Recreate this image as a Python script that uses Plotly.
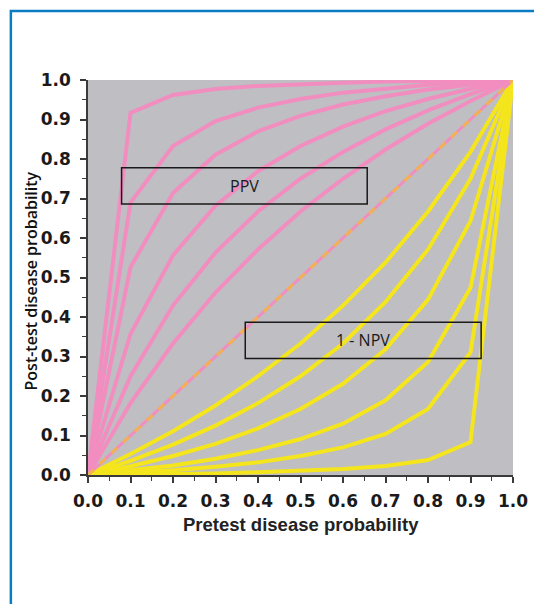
import plotly.graph_objects as go

# ---- data ----
pretest = [0.0, 0.1, 0.2, 0.3, 0.4, 0.5, 0.6, 0.7, 0.8, 0.9, 1.0]

# PPV curves (pink), from steepest to flattest
ppv_lr100 = [0.0, 0.917, 0.962, 0.977, 0.985, 0.990, 0.993, 0.996, 0.998, 0.999, 1.0]
ppv_lr20 = [0.0, 0.690, 0.833, 0.896, 0.930, 0.952, 0.968, 0.979, 0.988, 0.994, 1.0]
ppv_lr10 = [0.0, 0.526, 0.714, 0.811, 0.870, 0.909, 0.938, 0.959, 0.976, 0.989, 1.0]
ppv_lr5 = [0.0, 0.357, 0.556, 0.682, 0.769, 0.833, 0.882, 0.921, 0.952, 0.978, 1.0]
ppv_lr3 = [0.0, 0.250, 0.429, 0.563, 0.667, 0.750, 0.818, 0.875, 0.923, 0.964, 1.0]
ppv_lr2 = [0.0, 0.182, 0.333, 0.462, 0.571, 0.667, 0.750, 0.824, 0.889, 0.947, 1.0]

# diagonal (no change)
diagonal = [0.0, 0.1, 0.2, 0.3, 0.4, 0.5, 0.6, 0.7, 0.8, 0.9, 1.0]

# 1 - NPV curves (yellow)
npv_lr05 = [0.0, 0.053, 0.111, 0.176, 0.250, 0.333, 0.429, 0.538, 0.667, 0.818, 1.0]
npv_lr033 = [0.0, 0.036, 0.077, 0.125, 0.182, 0.250, 0.333, 0.438, 0.571, 0.750, 1.0]
npv_lr02 = [0.0, 0.022, 0.048, 0.079, 0.118, 0.167, 0.231, 0.318, 0.444, 0.643, 1.0]
npv_lr01 = [0.0, 0.011, 0.024, 0.041, 0.063, 0.091, 0.130, 0.189, 0.286, 0.474, 1.0]
npv_lr005 = [0.0, 0.006, 0.012, 0.021, 0.032, 0.048, 0.070, 0.104, 0.167, 0.310, 1.0]
npv_lr001 = [0.0, 0.001, 0.002, 0.004, 0.007, 0.010, 0.015, 0.023, 0.038, 0.083, 1.0]

tick_vals = [0.0, 0.1, 0.2, 0.3, 0.4, 0.5, 0.6, 0.7, 0.8, 0.9, 1.0]
tick_text = ["0.0", "0.1", "0.2", "0.3", "0.4", "0.5", "0.6", "0.7", "0.8", "0.9", "1.0"]

ppv_series = [ppv_lr100, ppv_lr20, ppv_lr10, ppv_lr5, ppv_lr3, ppv_lr2]
npv_series = [npv_lr05, npv_lr033, npv_lr02, npv_lr01, npv_lr005, npv_lr001]

# ---- styles ----
PINK = "#f28dc0"
YELLOW = "#f4e51c"
GRAY = "#bebec3"
AXIS = "#3a3a3a"
BLUE = "#0a7cc1"

fig = go.Figure()

for s in ppv_series:
    fig.add_trace(go.Scatter(x=pretest, y=s, mode="lines",
                             line=dict(color=PINK, width=4), hoverinfo="skip"))
for s in npv_series:
    fig.add_trace(go.Scatter(x=pretest, y=s, mode="lines",
                             line=dict(color=YELLOW, width=4), hoverinfo="skip"))

fig.add_trace(go.Scatter(x=pretest, y=diagonal, mode="lines",
                         line=dict(color=PINK, width=3), hoverinfo="skip"))
fig.add_trace(go.Scatter(x=pretest, y=diagonal, mode="lines", opacity=0.65,
                         line=dict(color="#f7c21c", width=3, dash="8px,8px"),
                         hoverinfo="skip"))

axis_common = dict(
    range=[0, 1], showgrid=False, zeroline=False,
    showline=True, linecolor=AXIS, linewidth=1.5,
    ticks="outside", ticklen=6, tickwidth=1.5, tickcolor=AXIS,
    tickvals=tick_vals, ticktext=tick_text,
    tickfont=dict(family="DejaVu Sans", size=17, color="#1a1a1a", weight="bold"),
    minor=dict(ticks="outside", ticklen=4, tickwidth=1.2, tickcolor=AXIS, dtick=0.05, tick0=0),
    fixedrange=True,
)

fig.update_layout(
    width=534, height=604,
    margin=dict(l=88, r=21, t=80, b=129, autoexpand=False),
    paper_bgcolor="white", plot_bgcolor=GRAY,
    showlegend=False,
    xaxis=dict(**axis_common, ticklabelstandoff=4),
    yaxis=dict(**axis_common, ticklabelstandoff=6),
)

# text boxes
ppv_box = dict(x0=0.079, x1=0.657, y0=0.686, y1=0.778)
npv_box = dict(x0=0.370, x1=0.925, y0=0.295, y1=0.387)
for b in (ppv_box, npv_box):
    fig.add_shape(type="rect", xref="x", yref="y", **b,
                  line=dict(color="#1a1a1a", width=1.5), fillcolor="rgba(0,0,0,0)")

box_font = dict(family="Open Sans, Noto Sans", size=16, color="#1a1a1a")
fig.add_annotation(x=(ppv_box["x0"] + ppv_box["x1"]) / 2, y=(ppv_box["y0"] + ppv_box["y1"]) / 2,
                   xref="x", yref="y", text="PPV", showarrow=False, font=box_font)
fig.add_annotation(x=(npv_box["x0"] + npv_box["x1"]) / 2, y=(npv_box["y0"] + npv_box["y1"]) / 2,
                   xref="x", yref="y", text="1 - NPV", showarrow=False, font=box_font)

# axis titles
fig.add_annotation(x=0.5, y=-0.125, xref="paper", yref="paper",
                   text="<b>Pretest disease probability</b>", showarrow=False,
                   font=dict(family="Liberation Sans, Arial", size=18.5, color="#222222"),
                   xanchor="center", yanchor="middle")
fig.add_annotation(x=-0.134, y=0.49, xref="paper", yref="paper",
                   text="Post-test disease probability", showarrow=False, textangle=-90,
                   font=dict(family="Open Sans", size=16, color="#111111", weight=600),
                   xanchor="center", yanchor="middle")

# blue frame (top and left edges)
fig.add_shape(type="path", xref="paper", yref="paper",
              path="M -0.1815,-0.33 L -0.1815,1.1745 L 1.06,1.1745",
              line=dict(color=BLUE, width=2.5))

fig.write_html("out.html")
